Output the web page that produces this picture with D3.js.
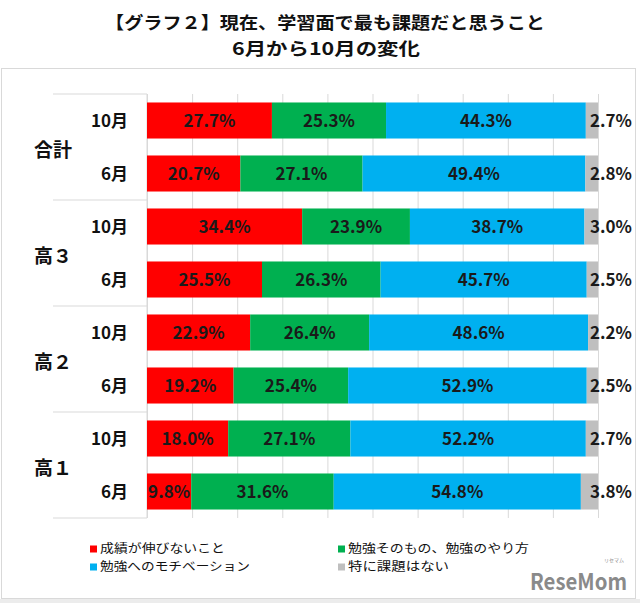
<!DOCTYPE html>
<html><head><meta charset="utf-8">
<script src="https://cdn.jsdelivr.net/npm/d3@7"></script>
<style>
html,body{margin:0;padding:0;background:#fff;}
svg{display:block;}
text{font-family:"Noto Sans CJK JP","Noto Sans",sans-serif;}
</style></head>
<body>
<svg id="chart" width="640" height="603"></svg>
<script>
const titleLines = ["【グラフ２】現在、学習面で最も課題だと思うこと", "6月から10月の変化"];
const groups = ["合計", "高３", "高２", "高１"];
const months = ["10月", "6月"];
const seriesNames = ["成績が伸びないこと", "勉強そのもの、勉強のやり方", "勉強へのモチベーション", "特に課題はない"];
const seriesColors = ["#ff0000", "#00b050", "#00b0f0", "#bfbfbf"];
const s1 = [27.7, 20.7, 34.4, 25.5, 22.9, 19.2, 18.0, 9.8];
const s2 = [25.3, 27.1, 23.9, 26.3, 26.4, 25.4, 27.1, 31.6];
const s3 = [44.3, 49.4, 38.7, 45.7, 48.6, 52.9, 52.2, 54.8];
const s4 = [2.7, 2.8, 3.0, 2.5, 2.2, 2.5, 2.7, 3.8];
const gridTicks = [0, 0.1, 0.2, 0.3, 0.4, 0.5, 0.6, 0.7, 0.8, 0.9, 1.0];

const seriesVals = [s1, s2, s3, s4];
const rows = [];
groups.forEach((g, gi) => months.forEach((m, mi) => {
  const i = gi * months.length + mi;
  const r = {key: g + "|" + m, group: g, month: m};
  seriesNames.forEach((s, si) => r[s] = seriesVals[si][i]);
  rows.push(r);
}));

const svg = d3.select("#chart");
const W = 640, H = 603;

// frame & bottom band
svg.append("rect").attr("x", 0).attr("y", 599).attr("width", W).attr("height", 4).attr("fill", "#ececec");
svg.append("rect").attr("x", 1.5).attr("y", 68.5).attr("width", 634).attr("height", 530)
  .attr("fill", "none").attr("stroke", "#d9d9d9").attr("stroke-width", 1);

// title
svg.append("text").attr("x", 325).attr("y", 29).attr("text-anchor", "middle")
  .attr("font-size", 17.5).attr("font-weight", 700).attr("fill", "#111")
  .attr("textLength", 440).attr("lengthAdjust", "spacingAndGlyphs").text(titleLines[0]);
svg.append("text").attr("x", 326).attr("y", 55).attr("text-anchor", "middle")
  .attr("font-size", 17.5).attr("font-weight", 700).attr("fill", "#111")
  .attr("textLength", 188).attr("lengthAdjust", "spacingAndGlyphs").text(titleLines[1]);

const x0 = 147, x1 = 598, yTop = 94, yBot = 518;
const x = d3.scaleLinear().domain([0, 1]).range([x0, x1]);
const y = d3.scaleBand().domain(rows.map(r => r.key)).range([yTop, yBot]).paddingInner(0.32).paddingOuter(0.16);

// gridlines
const grid = d3.axisBottom(x).tickValues(gridTicks).tickSize(-(yBot - yTop)).tickFormat("");
svg.append("g").attr("transform", `translate(0,${yBot})`).call(grid)
  .call(g => g.select(".domain").remove())
  .call(g => g.selectAll("line").attr("stroke", "#d9d9d9"));

// vertical axis line
svg.append("line").attr("x1", x0).attr("x2", x0).attr("y1", yTop).attr("y2", yBot).attr("stroke", "#d9d9d9");

// group separators
const step = y.step();
const sepYs = d3.range(groups.length + 1).map(i => yTop + i * months.length * step);
svg.append("g").selectAll("line").data(sepYs).join("line")
  .attr("x1", 53).attr("x2", x0).attr("y1", d => d).attr("y2", d => d)
  .attr("stroke", "#d9d9d9");

// stacked bars
const stack = d3.stack().keys(seriesNames).offset(d3.stackOffsetExpand);
const stacked = stack(rows);
const layers = svg.append("g").selectAll("g").data(stacked).join("g")
  .attr("fill", (d, i) => seriesColors[i]);
layers.selectAll("rect").data(d => d.map(p => ({p, key: d.key}))).join("rect")
  .attr("x", d => x(d.p[0])).attr("width", d => x(d.p[1]) - x(d.p[0]))
  .attr("y", d => y(d.p.data.key)).attr("height", y.bandwidth());

// value labels
stacked.forEach((layer, li) => {
  svg.append("g").selectAll("text").data(layer).join("text")
    .attr("x", d => li === 3 ? x1 + 13 : (x(d[0]) + x(d[1])) / 2)
    .attr("y", d => y(d.data.key) + y.bandwidth() / 2)
    .attr("dy", "0.36em").attr("text-anchor", "middle")
    .attr("font-size", 17).attr("font-weight", 700).attr("fill", "#1a1a1a")
    .text(d => d.data[layer.key].toFixed(1) + "%");
});

// month labels
svg.append("g").selectAll("text").data(rows).join("text")
  .attr("x", 128).attr("y", d => y(d.key) + y.bandwidth() / 2).attr("dy", "0.36em")
  .attr("text-anchor", "end").attr("font-size", 17).attr("font-weight", 700).attr("fill", "#111")
  .text(d => d.month);

// group labels
svg.append("g").selectAll("text").data(groups).join("text")
  .attr("x", 53).attr("y", (d, i) => (sepYs[i] + sepYs[i + 1]) / 2 + 3).attr("dy", "0.36em")
  .attr("text-anchor", "middle").attr("font-size", 19).attr("font-weight", 700).attr("fill", "#111")
  .text(d => d);

// legend
const legPos = [[90, 549], [338, 549], [90, 567], [338, 567]];
const legWidths = [125, 181, 150, 101];
const leg = svg.append("g").selectAll("g").data(seriesNames).join("g")
  .attr("transform", (d, i) => `translate(${legPos[i][0]},${legPos[i][1]})`);
leg.append("rect").attr("x", 0).attr("y", -3.5).attr("width", 7).attr("height", 7).attr("fill", (d, i) => seriesColors[i]);
leg.append("text").attr("x", 10).attr("y", 0).attr("dy", "0.36em").attr("font-size", 12).attr("fill", "#111")
  .attr("textLength", (d, i) => legWidths[i]).attr("lengthAdjust", "spacingAndGlyphs").text(d => d);

// watermark
svg.append("text").attr("x", 530).attr("y", 590).attr("font-size", 23).attr("font-weight", 700)
  .attr("fill", "#8a8a8a").attr("font-family", "Roboto, sans-serif")
  .attr("textLength", 97).attr("lengthAdjust", "spacingAndGlyphs").text("ReseMom");
svg.append("text").attr("x", 614).attr("y", 562).attr("font-size", 5).attr("text-anchor", "middle")
  .attr("fill", "#8a8a8a").text("リセマム");
</script>
</body></html>
